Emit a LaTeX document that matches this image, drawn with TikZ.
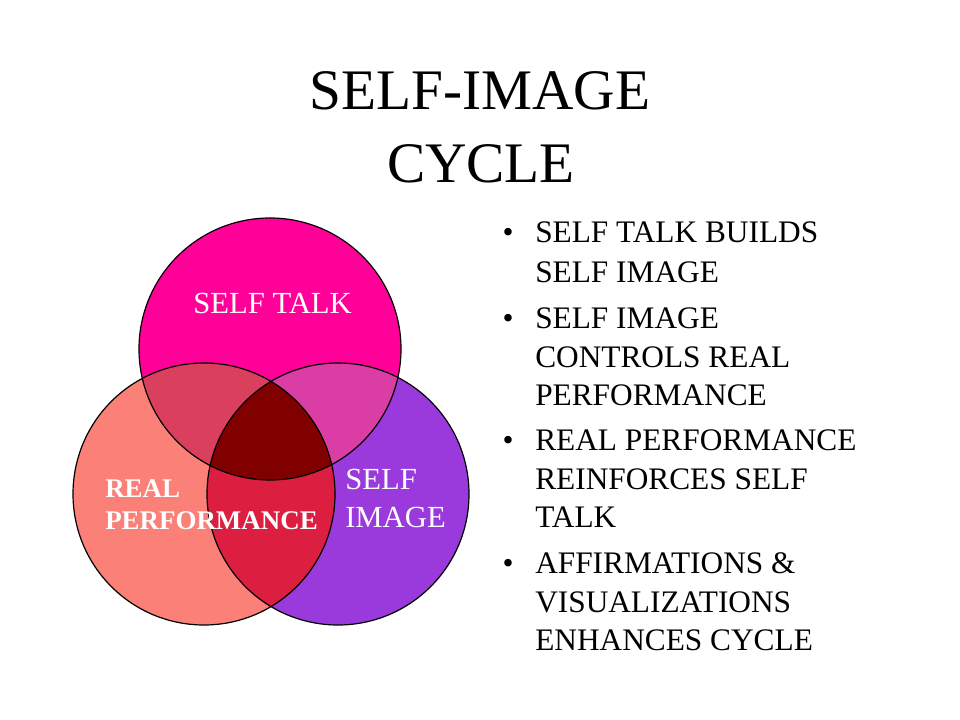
\documentclass[tikz,border=0pt]{standalone}
\usepackage{fontspec}
\setmainfont{Liberation Serif}
\definecolor{talkc}{HTML}{FF0099}
\definecolor{perfc}{HTML}{FA8078}
\definecolor{imagec}{HTML}{9A3ADC}
\definecolor{tpc}{HTML}{DA405E}
\definecolor{tic}{HTML}{DA3EA4}
\definecolor{pic}{HTML}{DC1E40}
\definecolor{allc}{HTML}{800000}
\tikzset{
  titletext/.style={anchor=base, inner sep=0pt, font=\fontsize{43}{43}\selectfont},
  bullettext/.style={anchor=base west, inner sep=0pt, font=\fontsize{23.5}{23.5}\selectfont},
  bulletdot/.style={anchor=base, inner sep=0pt, font=\fontsize{23.5}{23.5}\selectfont},
  venntext/.style={anchor=base west, inner sep=0pt, text=white, font=\fontsize{23}{23}\selectfont},
  vennbold/.style={anchor=base west, inner sep=0pt, text=white, font=\fontsize{20.2}{20.2}\selectfont\bfseries},
  outline/.style={draw=black, line width=0.9pt}
}
\begin{document}
\begin{tikzpicture}[x=0.75pt,y=-0.75pt]
\useasboundingbox[fill=white] (0,0) rectangle (960,720);
\def\rad{98.25pt}
\coordinate (T) at (270,349);
\coordinate (L) at (204,494);
\coordinate (R) at (338,494);
% base circles
\fill[talkc] (T) circle[radius=\rad];
\fill[perfc] (L) circle[radius=\rad];
\fill[imagec] (R) circle[radius=\rad];
% pairwise intersections
\begin{scope}
  \clip (T) circle[radius=\rad];
  \fill[tpc] (L) circle[radius=\rad];
  \fill[tic] (R) circle[radius=\rad];
\end{scope}
\begin{scope}
  \clip (L) circle[radius=\rad];
  \fill[pic] (R) circle[radius=\rad];
\end{scope}
\begin{scope}
  \clip (T) circle[radius=\rad];
  \clip (L) circle[radius=\rad];
  \fill[allc] (R) circle[radius=\rad];
\end{scope}
% outlines
\draw[outline] (T) circle[radius=\rad];
\draw[outline] (L) circle[radius=\rad];
\draw[outline] (R) circle[radius=\rad];
% venn labels
\node[venntext] (lt) at (193,313) {SELF TALK};
\node[vennbold] (lp1) at (105,497) {REAL};
\node[vennbold] (lp2) at (105,529) {PERFORMANCE};
\node[venntext] (li1) at (345,489) {SELF};
\node[venntext] (li2) at (345,527) {IMAGE};
% title
\node[titletext] (t1) at (480,110) {SELF-IMAGE};
\node[titletext] (t2) at (481,183) {CYCLE};
% bullets
\node[bulletdot] (b1) at (508,243) {•};
\node[bullettext] (b1a) at (535,243) {SELF TALK BUILDS};
\node[bullettext] (b1b) at (535,282) {SELF IMAGE};
\node[bulletdot] (b2) at (508,328) {•};
\node[bullettext] (b2a) at (535,328) {SELF IMAGE};
\node[bullettext] (b2b) at (535,367) {CONTROLS REAL};
\node[bullettext] (b2c) at (535,405) {PERFORMANCE};
\node[bulletdot] (b3) at (508,450) {•};
\node[bullettext] (b3a) at (535,450) {REAL PERFORMANCE};
\node[bullettext] (b3b) at (535,489) {REINFORCES SELF};
\node[bullettext] (b3c) at (535,527) {TALK};
\node[bulletdot] (b4) at (508,573) {•};
\node[bullettext] (b4a) at (535,573) {AFFIRMATIONS \&};
\node[bullettext] (b4b) at (535,612) {VISUALIZATIONS};
\node[bullettext] (b4c) at (535,650) {ENHANCES CYCLE};
\end{tikzpicture}
\end{document}
